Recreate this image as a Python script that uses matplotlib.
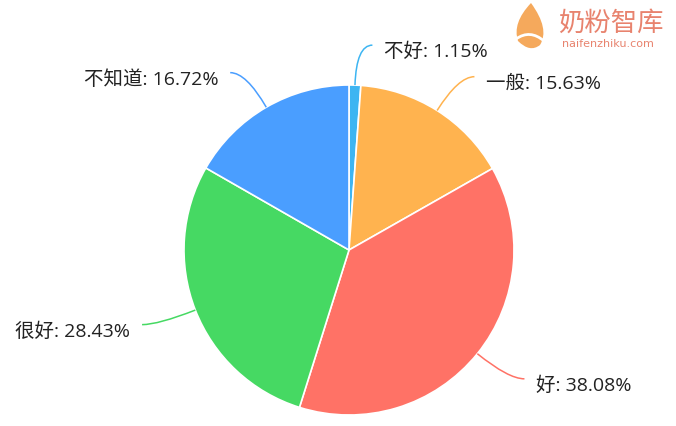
import numpy as np
import matplotlib
matplotlib.use("Agg")
import matplotlib.pyplot as plt
from matplotlib.path import Path
from matplotlib.patches import PathPatch

plt.rcParams['font.family'] = ['Open Sans', 'Noto Sans CJK SC', 'DejaVu Sans']

labels = ["不好", "一般", "好", "很好", "不知道"]
values = [1.15, 15.63, 38.08, 28.43, 16.72]
colors = ["#3DB5F2", "#FFB34F", "#FF7266", "#46D963", "#4A9EFF"]

W, H = 676, 427
fig = plt.figure(figsize=(W / 100, H / 100), dpi=100)
ax = fig.add_axes([0, 0, 1, 1])

cx, cy, R = 349, H - 251, 165
wedges, _ = ax.pie(values, colors=colors, startangle=90, counterclock=False,
                   center=(cx, cy), radius=R, frame=True,
                   wedgeprops=dict(edgecolor='white', linewidth=1.2))
ax.set_xlim(0, W)
ax.set_ylim(0, H)
ax.set_aspect('equal')
ax.axis('off')

L1, L2, GAP = 40, 16, 12
total = sum(values)
cum = 0
for lab, v, col in zip(labels, values, colors):
    mid = 90 - (cum + v / 2) / total * 360
    cum += v
    a = np.deg2rad(mid)
    p0 = (cx + R * np.cos(a), cy + R * np.sin(a))
    p1 = (cx + (R + L1) * np.cos(a), cy + (R + L1) * np.sin(a))
    side = 1 if np.cos(a) >= 0 else -1
    p2 = (p1[0] + side * L2, p1[1])
    path = Path([p0, p1, p2], [Path.MOVETO, Path.CURVE3, Path.CURVE3])
    ax.add_patch(PathPatch(path, fill=False, edgecolor=col, lw=1.1))
    ax.text(p2[0] + side * GAP, p2[1] - 6, f"{lab}: {v:.2f}%", fontsize=14,
            ha='left' if side > 0 else 'right', va='center', color='#222222')

# watermark logo
drop = Path([(531, H - 4), (550, H - 30), (540, H - 46), (530, H - 54), (518, H - 42),
             (512, H - 24), (531, H - 4)],
            [Path.MOVETO, Path.CURVE3, Path.CURVE3, Path.CURVE3, Path.CURVE3,
             Path.CURVE3, Path.CURVE3])
ax.add_patch(PathPatch(drop, facecolor='#F4A04A', edgecolor='none', alpha=0.9))
swirl = Path([(516, H - 40), (530, H - 30), (544, H - 42)],
             [Path.MOVETO, Path.CURVE3, Path.CURVE3])
ax.add_patch(PathPatch(swirl, fill=False, edgecolor='white', lw=2))
ax.text(558, H - 23, "奶粉智库", fontsize=19, color='#E8836E', ha='left', va='center',
        family=['Noto Sans CJK SC'])
ax.text(562, H - 44, "naifenzhiku.com", fontsize=8, color='#E8836E', ha='left',
        va='center', family=['DejaVu Sans'])

fig.savefig("out.png", dpi=100, facecolor='white')
